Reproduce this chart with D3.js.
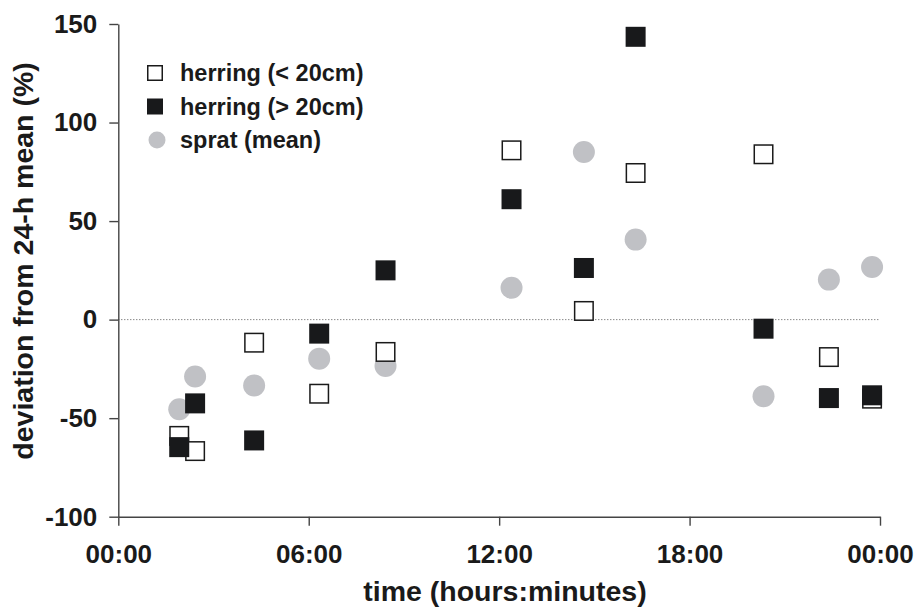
<!DOCTYPE html>
<html>
<head>
<meta charset="utf-8">
<script src="https://cdn.jsdelivr.net/npm/d3@7"></script>
<style>
  html, body { margin: 0; padding: 0; background: #fff; }
  svg { display: block; font-family: Arial, "Liberation Sans", Helvetica, sans-serif; font-weight: bold; }
</style>
</head>
<body>
<svg id="chart" width="918" height="607"></svg>
<script>
// Sampling times (hours after midnight)
const hours = [1.92, 2.42, 4.28, 6.33, 8.42, 12.39, 14.67, 16.30, 20.33, 22.39, 23.75];

// Deviation from the 24-h mean (%)
const herringSmall = [-59.0, -66.7, -11.7, -37.6, -16.4, 85.9, 4.4, 74.4, 83.9, -19.0, -40.1];
const herringLarge = [-64.7, -42.5, -61.3, -7.1, 25.0, 61.1, 26.2, 143.5, -4.6, -39.8, -38.4];
const spratMean    = [-45.5, -28.9, -33.4, -19.8, -23.5, 16.2, 85.1, 40.6, -38.9, 20.3, 26.7];

const xTicks = [0, 6, 12, 18, 24];
const xTickLabels = ["00:00", "06:00", "12:00", "18:00", "00:00"];
const yTicks = [-100, -50, 0, 50, 100, 150];

const seriesNames = ["herring (< 20cm)", "herring (> 20cm)", "sprat (mean)"];

const svg = d3.select("#chart");

const x = d3.scaleLinear().domain([0, 24]).range([118.3, 880]);
const y = d3.scaleLinear().domain([-100, 150]).range([516.7, 24]);

const axisColor = "#444";
const fontStack = "Arial, 'Liberation Sans', sans-serif";

// Zero reference line
svg.append("line")
  .attr("x1", x(0)).attr("x2", x(24))
  .attr("y1", y(0)).attr("y2", y(0))
  .attr("stroke", "#555").attr("stroke-width", 1)
  .attr("stroke-dasharray", "1,2");

// Y axis (plain hyphen for negative values)
const yAxis = svg.append("g")
  .attr("transform", `translate(${x(0)},0)`)
  .call(d3.axisLeft(y).tickValues(yTicks)
        .tickFormat(d => (d < 0 ? "-" + Math.abs(d) : String(d)))
        .tickSize(9).tickPadding(12).tickSizeOuter(0));
yAxis.select(".domain").attr("stroke", axisColor).attr("stroke-width", 1.4);
yAxis.selectAll(".tick line").attr("stroke", axisColor).attr("stroke-width", 1.4);
yAxis.selectAll(".tick text")
  .attr("fill", "#1a1a1a")
  .style("font-size", "26px").style("font-weight", "bold")
  .style("font-family", fontStack);

// X axis
const xAxis = svg.append("g")
  .attr("transform", `translate(0,${y(-100)})`)
  .call(d3.axisBottom(x).tickValues(xTicks).tickFormat((d, i) => xTickLabels[i])
        .tickSize(9).tickPadding(19).tickSizeOuter(0));
xAxis.select(".domain").attr("stroke", axisColor).attr("stroke-width", 1.4);
xAxis.selectAll(".tick line").attr("stroke", axisColor).attr("stroke-width", 1.4);
xAxis.selectAll(".tick text")
  .attr("fill", "#1a1a1a")
  .style("font-size", "26px").style("font-weight", "bold")
  .style("font-family", fontStack);

// Axis titles
svg.append("text")
  .attr("x", 505).attr("y", 601)
  .attr("text-anchor", "middle")
  .attr("fill", "#1a1a1a")
  .style("font-size", "28.5px")
  .text("time (hours:minutes)");

svg.append("text")
  .attr("transform", "translate(33,261) rotate(-90)")
  .attr("text-anchor", "middle")
  .attr("fill", "#1a1a1a")
  .style("font-size", "28.5px")
  .text("deviation from 24-h mean (%)");

// Data marks: sprat behind, then small herring, then large herring
const sq = 20;
const plot = svg.append("g");

plot.selectAll("circle.sprat")
  .data(hours.map((h, i) => ({h, v: spratMean[i]})))
  .join("circle")
  .attr("class", "sprat")
  .attr("cx", d => x(d.h)).attr("cy", d => y(d.v))
  .attr("r", 11)
  .attr("fill", "#c0c1c5");

plot.selectAll("rect.small")
  .data(hours.map((h, i) => ({h, v: herringSmall[i]})))
  .join("rect")
  .attr("class", "small")
  .attr("x", d => x(d.h) - sq / 2 + 0.75).attr("y", d => y(d.v) - sq / 2 + 0.75)
  .attr("width", sq - 1.5).attr("height", sq - 1.5)
  .attr("fill", "#fff").attr("stroke", "#1a1a1a").attr("stroke-width", 1.5);

plot.selectAll("rect.large")
  .data(hours.map((h, i) => ({h, v: herringLarge[i]})))
  .join("rect")
  .attr("class", "large")
  .attr("x", d => x(d.h) - sq / 2).attr("y", d => y(d.v) - sq / 2)
  .attr("width", sq).attr("height", sq)
  .attr("fill", "#18191b");

// Legend
const legend = svg.append("g");
const legendY = [73, 106.5, 140];
const ls = 16;
legend.append("rect")
  .attr("x", 155 - ls / 2 + 0.75).attr("y", legendY[0] - ls / 2 + 0.75)
  .attr("width", ls - 1.5).attr("height", ls - 1.5)
  .attr("fill", "#fff").attr("stroke", "#1a1a1a").attr("stroke-width", 1.5);
legend.append("rect")
  .attr("x", 155 - ls / 2).attr("y", legendY[1] - ls / 2)
  .attr("width", ls).attr("height", ls)
  .attr("fill", "#18191b");
legend.append("circle")
  .attr("cx", 157).attr("cy", legendY[2]).attr("r", 8.5)
  .attr("fill", "#c0c1c5");
legend.selectAll("text")
  .data(seriesNames)
  .join("text")
  .attr("x", 180).attr("y", (d, i) => legendY[i])
  .attr("dy", "0.36em")
  .attr("fill", "#1a1a1a")
  .style("font-size", "23.5px")
  .text(d => d);
</script>
</body>
</html>
